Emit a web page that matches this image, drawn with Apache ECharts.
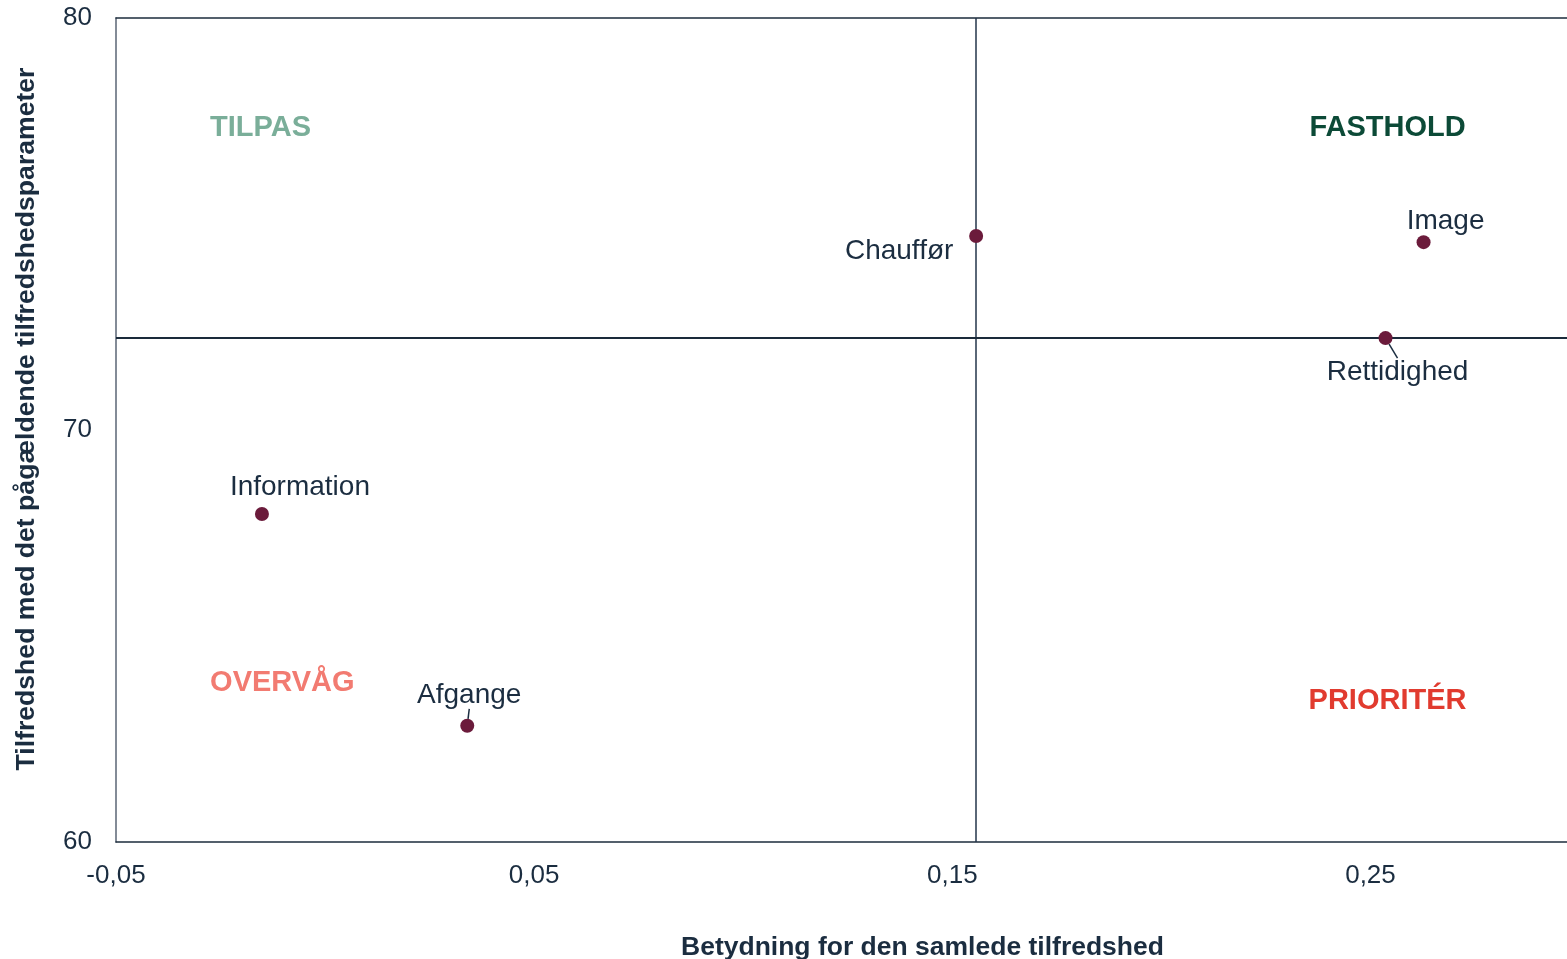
<!DOCTYPE html>
<html>
<head>
<meta charset="utf-8">
<script src="https://cdn.jsdelivr.net/npm/echarts@6/dist/echarts.min.js"></script>
<style>html,body{margin:0;padding:0;background:#fff}#c{width:1567px;height:959px}</style>
</head>
<body>
<div id="c"></div>
<script>
// ---- data ----
const pointNames = ['Chauffør', 'Image', 'Rettidighed', 'Information', 'Afgange'];
const pointX = [0.1557, 0.2627, 0.2536, -0.0151, 0.0340];
const pointY = [74.71, 74.56, 72.23, 67.96, 62.82];
const refX = 0.1557;   // vertical reference line
const refY = 72.23;    // horizontal reference line
const quadrantNames = ['TILPAS', 'FASTHOLD', 'OVERVÅG', 'PRIORITÉR'];
const quadrantX = [-0.0275, 0.2354, -0.0275, 0.2352];
const quadrantY = [77.33, 77.33, 63.86, 63.42];
const xTicks = { min: -0.05, max: 0.297, interval: 0.1 };
const yTicks = { min: 60, max: 80, interval: 10 };
const xTitle = 'Betydning for den samlede tilfredshed';
const yTitle = 'Tilfredshed med det pågældende tilfredshedsparameter';

// ---- styling ----
const FONT = "'Liberation Sans', Arial, sans-serif";
const TEXT = '#1b2d40';
const quadrantColors = ['#7aae99', '#0c4a37', '#f27b71', '#e13b2f'];
const labelOffsets = {
  'Chauffør': [-77, 15],
  'Image': [22, -21],
  'Rettidighed': [12, 34],
  'Information': [38, -27],
  'Afgange': [2, -31]
};
const leader = { 'Rettidighed': true, 'Afgange': true };

const chart = echarts.init(document.getElementById('c'), null, { renderer: 'canvas' });

const pointData = pointNames.map((n, i) => {
  const item = { name: n, value: [pointX[i], pointY[i]] };
  item.labelLine = { show: !!leader[n] };
  return item;
});

const quadData = quadrantNames.map((n, i) => ({
  name: n,
  value: [quadrantX[i], quadrantY[i]],
  label: { color: quadrantColors[i] }
}));

const axisCommon = {
  type: 'value', min: xTicks.min, max: xTicks.max, interval: xTicks.interval,
  axisTick: { show: false }, splitLine: { show: false }
};

chart.setOption({
  animation: false,
  backgroundColor: '#fff',
  textStyle: { fontFamily: FONT },
  grid: { left: 116, top: 18, right: 0, bottom: 117, show: false },
  title: {
    text: xTitle, left: 676, top: 929,
    textStyle: { fontFamily: FONT, fontSize: 26.5, fontWeight: 'bold', color: TEXT }
  },
  graphic: [{
    type: 'text', x: 27, y: 419, rotation: Math.PI / 2,
    style: {
      text: yTitle, fontFamily: FONT, fontSize: 26.6, fontWeight: 'bold', fill: TEXT,
      align: 'center', verticalAlign: 'middle'
    }
  }],
  xAxis: [
    Object.assign({}, axisCommon, {
      position: 'bottom',
      axisLine: { show: true, onZero: false, lineStyle: { color: '#1c2d3d', width: 1.5 } },
      axisLabel: {
        showMaxLabel: false, margin: 21, fontSize: 26, color: TEXT, fontFamily: FONT,
        formatter: v => v.toFixed(2).replace('.', ',')
      }
    }),
    Object.assign({}, axisCommon, {
      position: 'top',
      axisLine: { show: true, onZero: false, lineStyle: { color: '#1c2d3d', width: 1.5 } },
      axisLabel: { show: false }
    })
  ],
  yAxis: {
    type: 'value', min: yTicks.min, max: yTicks.max, interval: yTicks.interval,
    axisLine: { show: true, onZero: false, lineStyle: { color: '#5a6575', width: 1.5 } },
    axisTick: { show: false },
    splitLine: { show: false },
    axisLabel: { margin: 24, fontSize: 26, color: TEXT, fontFamily: FONT, padding: [4, 0, 0, 0] }
  },
  series: [
    {
      type: 'scatter',
      name: 'points',
      xAxisIndex: 0,
      symbolSize: 14,
      itemStyle: { color: '#6b1b3b', opacity: 1 },
      label: {
        show: true, position: 'inside', fontSize: 28, color: TEXT, fontFamily: FONT,
        formatter: p => p.name
      },
      labelLine: { lineStyle: { color: TEXT, width: 1.5, opacity: 1 } },
      labelLayout: p => {
        const o = labelOffsets[pointNames[p.dataIndex]];
        return { dx: o[0], dy: o[1] };
      },
      data: pointData,
      markLine: {
        silent: true, symbol: 'none', z: 1, precision: 6,
        label: { show: false },
        data: [
          { xAxis: refX, lineStyle: { color: '#23354a', width: 1.5, type: 'solid', opacity: 1 } },
          { yAxis: refY, lineStyle: { color: '#1a2a3a', width: 2.2, type: 'solid', opacity: 1 } }
        ]
      },
      z: 3
    },
    {
      type: 'scatter',
      name: 'quadrants',
      xAxisIndex: 0,
      symbolSize: 0,
      silent: true,
      itemStyle: { opacity: 1 },
      label: {
        show: true, position: 'right', distance: 0, align: 'left', verticalAlign: 'middle',
        fontSize: 29, fontWeight: 'bold', fontFamily: FONT,
        formatter: p => p.name
      },
      data: quadData
    }
  ]
});
</script>
</body>
</html>
